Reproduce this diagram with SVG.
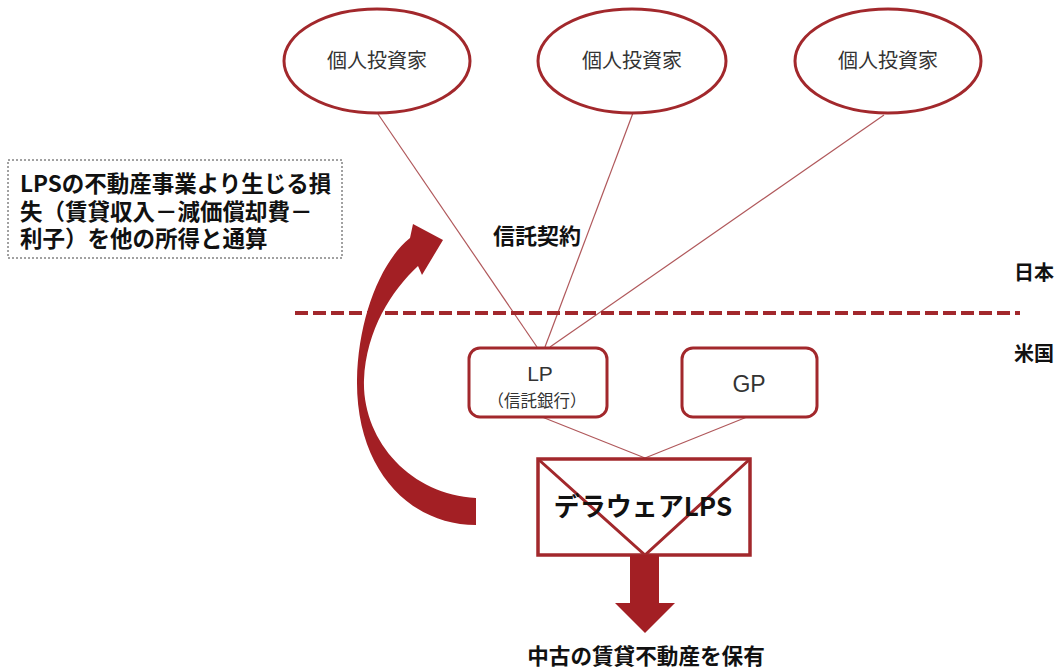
<svg xmlns="http://www.w3.org/2000/svg" width="1064" height="671" viewBox="0 0 1064 671">
<style>
.inv{fill:#fff;stroke:#A2282C;stroke-width:3}
.box{fill:#fff;stroke:#A2282C;stroke-width:3}
.conn{stroke:#B0585B;stroke-width:1.2;fill:none}
.t{font-family:"Noto Sans CJK JP","Liberation Sans",sans-serif}
.reg{fill:#333;font-weight:400}
.bold{fill:#111;font-weight:700}
.lat{font-family:"Liberation Sans","Noto Sans CJK JP",sans-serif}
</style>
<rect width="1064" height="671" fill="#fff"/>

<g id="connectors">
<line class="conn" x1="378" y1="114" x2="537" y2="347"/>
<line class="conn" x1="633" y1="113" x2="545" y2="347"/>
<line class="conn" x1="884" y1="115" x2="550" y2="347"/>
<line class="conn" x1="542" y1="417" x2="645" y2="458"/>
<line class="conn" x1="747" y1="417" x2="645" y2="458"/>
</g>

<g id="border">
<line x1="295" y1="313" x2="1020" y2="313" stroke="#A2282C" stroke-width="4" stroke-dasharray="13,5"/>
<text class="t bold" x="1034" y="280" font-size="20" text-anchor="middle">日本</text>
<text class="t bold" x="1034" y="361" font-size="20" text-anchor="middle">米国</text>
</g>

<g id="investor1">
<ellipse class="inv" cx="377" cy="61" rx="93" ry="52"/>
<text class="t reg" x="377" y="68" font-size="20" text-anchor="middle">個人投資家</text>
</g>
<g id="investor2">
<ellipse class="inv" cx="632" cy="61" rx="94" ry="52"/>
<text class="t reg" x="632" y="68" font-size="20" text-anchor="middle">個人投資家</text>
</g>
<g id="investor3">
<ellipse class="inv" cx="888" cy="61" rx="93" ry="52"/>
<text class="t reg" x="888" y="68" font-size="20" text-anchor="middle">個人投資家</text>
</g>

<g id="trust-label">
<text class="t bold" x="537" y="244" font-size="22" text-anchor="middle">信託契約</text>
</g>

<g id="note">
<rect x="8" y="160" width="334" height="98" fill="#fff" stroke="#444" stroke-width="1" stroke-dasharray="2,2"/>
<text class="t bold" font-size="22.5" x="20">
<tspan x="20" y="192">LPSの不動産事業より生じる損</tspan>
<tspan x="20" y="220">失（賃貸収入－減価償却費－</tspan>
<tspan x="20" y="247">利子）を他の所得と通算</tspan>
</text>
</g>

<g id="curved-arrow">
<path fill="#A31F24" d="M 476,525 C 410,525 356,470 357,380 C 358,320 380,262 410,238 L 413,224 L 443,240 L 422,275 L 418,266 C 392,290 366,330 364,380 C 362,440 410,495 476,498 Z"/>
</g>

<g id="lp">
<rect class="box" x="469" y="348" width="138" height="69" rx="11"/>
<text class="lat reg" x="540" y="381" font-size="21" text-anchor="middle">LP</text>
<text class="t reg" x="537" y="407" font-size="16.5" text-anchor="middle">（信託銀行）</text>
</g>

<g id="gp">
<rect class="box" x="682" y="348" width="135" height="69" rx="11"/>
<text class="lat reg" x="749" y="392" font-size="23" text-anchor="middle">GP</text>
</g>

<g id="delaware">
<rect x="538" y="459" width="212" height="96" fill="#fff" stroke="#A2282C" stroke-width="3.5"/>
<path d="M 538,459 L 645,555 L 750,459" fill="none" stroke="#A2282C" stroke-width="3"/>
<text class="t bold" x="643" y="516" font-size="26" text-anchor="middle">デラウェアLPS</text>
</g>

<g id="down-arrow">
<polygon fill="#A31F24" points="630,555 659,555 659,603 675,603 645,633 615,603 630,603"/>
</g>

<g id="asset">
<text class="t bold" x="646" y="664" font-size="21.6" text-anchor="middle">中古の賃貸不動産を保有</text>
</g>
</svg>
